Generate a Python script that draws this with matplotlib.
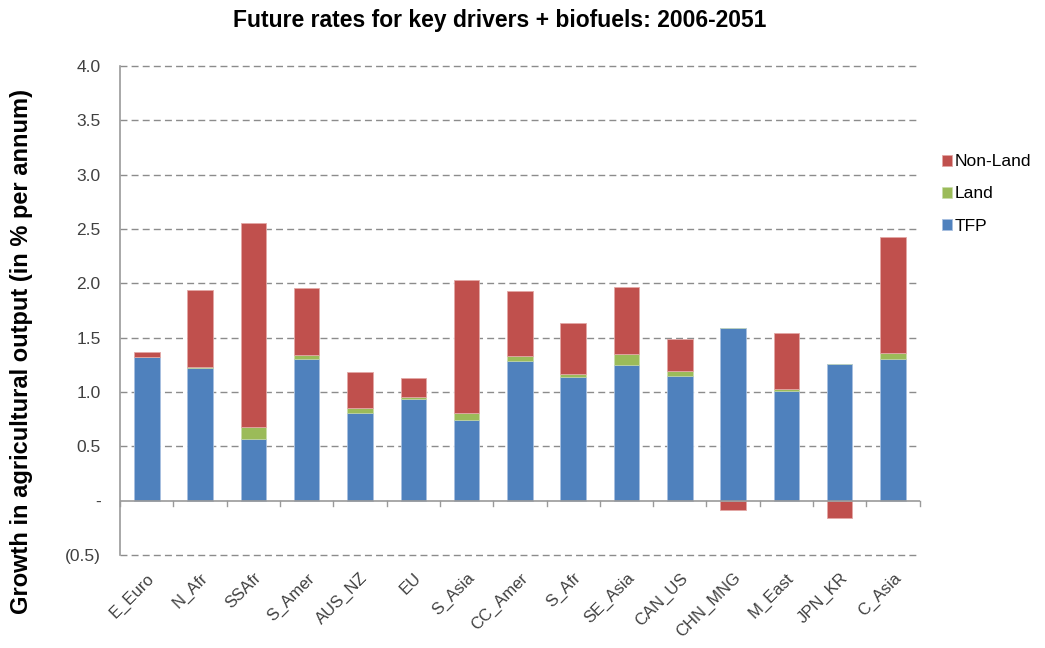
import numpy as np
from matplotlib import pyplot as plt

regions = ['E_Euro', 'N_Afr', 'SSAfr', 'S_Amer', 'AUS_NZ', 'EU', 'S_Asia', 'CC_Amer',
           'S_Afr', 'SE_Asia', 'CAN_US', 'CHN_MNG', 'M_East', 'JPN_KR', 'C_Asia']
tfp      = [1.32, 1.22, 0.57, 1.30, 0.81, 0.935, 0.74, 1.29, 1.135, 1.25, 1.15, 1.59, 1.01, 1.26, 1.30]
land     = [0.00, 0.015, 0.11, 0.045, 0.04, 0.018, 0.07, 0.04, 0.027, 0.10, 0.04, 0.00, 0.015, 0.00, 0.06]
non_land = [0.05, 0.70, 1.88, 0.61, 0.33, 0.18, 1.22, 0.60, 0.47, 0.62, 0.30, -0.09, 0.52, -0.16, 1.07]

yticks = [-0.5, 0, 0.5, 1.0, 1.5, 2.0, 2.5, 3.0, 3.5, 4.0]
ytick_labels = ['(0.5)', '-', '0.5', '1.0', '1.5', '2.0', '2.5', '3.0', '3.5', '4.0']

blue = '#4F81BD'
green = '#9BBB59'
red = '#C0504D'
txt = '#404040'

plt.rcParams['font.family'] = ['Liberation Sans', 'DejaVu Sans']

fig = plt.figure(figsize=(10.45, 6.48), dpi=100)
ax = fig.add_axes([0.115, 0.1435, 0.765, 0.7545])

x = np.arange(len(regions))
tfp_a = np.array(tfp)
land_a = np.array(land)
nl_a = np.array(non_land)
nl_bottom = np.where(nl_a >= 0, tfp_a + land_a, 0)

w = 0.48
ax.bar(x, tfp_a, w, color=blue, edgecolor='#a8c0e0', linewidth=0.6, label='TFP', zorder=3)
ax.bar(x, land_a, w, bottom=tfp_a, color=green, edgecolor='#c8dcaa', linewidth=0.4, label='Land', zorder=3)
ax.bar(x, nl_a, w, bottom=nl_bottom, color=red, edgecolor='#e3a8a6', linewidth=0.6, label='Non-Land', zorder=3)

ax.set_xlim(-0.5, len(regions) - 0.5)
ax.set_ylim(-0.5, 4.0)
ax.set_yticks(yticks)
ax.set_yticklabels(ytick_labels, fontsize=12.5, color=txt)
ax.tick_params(axis='y', length=0, pad=14)

for y in yticks:
    if y != 0:
        ax.axhline(y, color='#8c8c8c', ls=(0, (5, 3)), lw=1.0, zorder=1, clip_on=False)
ax.axhline(0, color='#9a9a9a', lw=1.2, zorder=4)

ax.set_xticks(x)
ax.set_xticklabels(regions, rotation=45, ha='right', rotation_mode='anchor',
                   fontsize=12, color=txt)
ax.tick_params(axis='x', length=0, pad=11)
for b in np.arange(-0.5, len(regions), 1.0):
    ax.plot([b, b], [0, -0.05], color='#9a9a9a', lw=1.0, zorder=4, clip_on=False)

for s in ['top', 'right', 'bottom']:
    ax.spines[s].set_visible(False)
ax.spines['left'].set_color('#9a9a9a')
ax.spines['left'].set_linewidth(1.2)

fig.text(500 / 1045, 1 - 20 / 648, 'Future rates for key drivers + biofuels: 2006-2051',
         fontsize=16.5, fontweight='bold', ha='center', va='center')
fig.text(22 / 1045, 1 - 352 / 648, 'Growth in agricultural output (in % per annum)',
         fontsize=17, fontweight='bold', rotation=90, ha='center', va='center')

handles, labels = ax.get_legend_handles_labels()
fig.legend(handles[::-1], labels[::-1], loc='center left', bbox_to_anchor=(0.901, 1 - 194 / 648),
           frameon=False, fontsize=12.5, handlelength=0.6, handleheight=0.6,
           handletextpad=0.15, labelspacing=1.0, borderpad=0, borderaxespad=0)

fig.savefig('out.png', dpi=100)
